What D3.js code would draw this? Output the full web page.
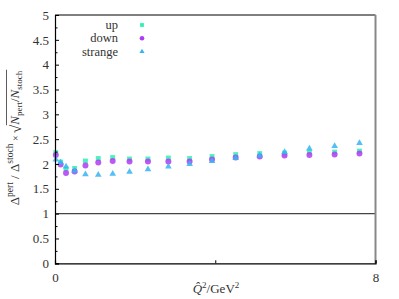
<!DOCTYPE html>
<html><head><meta charset="utf-8">
<script src="https://cdn.jsdelivr.net/npm/d3@7"></script>
<style>body{margin:0;background:#fff}svg{display:block}</style>
</head><body>
<script>
const qsq = [0.02, 0.14, 0.275, 0.49, 0.76, 1.08, 1.44, 1.86, 2.32, 2.83, 3.36, 3.92, 4.51, 5.11, 5.73, 6.35, 6.98, 7.6];
const up = [2.23, 2.04, 1.90, 1.91, 2.06, 2.11, 2.13, 2.10, 2.10, 2.12, 2.11, 2.15, 2.19, 2.21, 2.22, 2.24, 2.24, 2.26];
const down = [2.18, 1.99, 1.82, 1.85, 1.97, 2.03, 2.06, 2.05, 2.05, 2.05, 2.05, 2.09, 2.13, 2.15, 2.17, 2.18, 2.19, 2.21];
const strange = [2.09, 2.03, 1.95, 1.86, 1.79, 1.78, 1.80, 1.84, 1.89, 1.95, 2.00, 2.06, 2.12, 2.17, 2.24, 2.31, 2.36, 2.42];
const seriesNames = ["up", "down", "strange"];
const yTicks = [0, 0.5, 1, 1.5, 2, 2.5, 3, 3.5, 4, 4.5, 5];
const xTicks = [0, 4, 8];
const xLabeled = [0, 8];

const W = 399, H = 299;
const L = 55, R = 375.5, T = 15, B = 263.3;
const font = "'Liberation Serif', 'DejaVu Serif', serif";
const svg = d3.select("body").append("svg").attr("width", W).attr("height", H);
const x = d3.scaleLinear().domain([0, 8]).range([L, R]);
const y = d3.scaleLinear().domain([0, 5]).range([B, T]);

const colors = {up: "#2ff0b4", down: "#b03cf2", strange: "#35b4f2"};
const symbols = {up: d3.symbolSquare, down: d3.symbolCircle, strange: d3.symbolTriangle};
const sizes = {up: 24, down: 28, strange: 19};
const data = {up, down, strange};

// reference line at 1
svg.append("line").attr("x1", x(0)).attr("x2", x(8)).attr("y1", y(1)).attr("y2", y(1))
  .attr("stroke", "#444").attr("stroke-width", 1.2);

// points
seriesNames.forEach(name => {
  svg.append("g").selectAll("path").data(qsq.map((q, i) => [q, data[name][i]])).join("path")
    .attr("d", d3.symbol().type(symbols[name]).size(sizes[name]))
    .attr("transform", d => `translate(${x(d[0])},${y(d[1])})`)
    .attr("fill", colors[name]).attr("fill-opacity", 0.85);
});

// frame
svg.append("line").attr("x1", L).attr("x2", R).attr("y1", T).attr("y2", T).attr("stroke", "#000").attr("stroke-width", 1);
svg.append("line").attr("x1", R).attr("x2", R).attr("y1", T).attr("y2", B).attr("stroke", "#888").attr("stroke-width", 2);

// y axis
const yAxis = d3.axisLeft(y).tickValues(yTicks).tickSize(-4).tickPadding(6).tickFormat(d3.format(""));
const gy = svg.append("g").attr("transform", `translate(${L},0)`).call(yAxis);
const yMinor = d3.axisLeft(y).tickValues(d3.range(0.25, 5, 0.5)).tickSize(-2.5).tickFormat("");
svg.append("g").attr("transform", `translate(${L},0)`).call(yMinor).select(".domain").remove();
gy.select(".domain").attr("stroke", "#000").attr("stroke-width", 1.2);
gy.selectAll("text").attr("font-family", font).attr("font-size", 13).attr("fill", "#333");

// x axis
const xAxis = d3.axisBottom(x).tickValues(xTicks).tickSize(-3).tickPadding(9)
  .tickFormat(d => xLabeled.includes(d) ? d : "");
const gx = svg.append("g").attr("transform", `translate(0,${B})`).call(xAxis);
gx.select(".domain").attr("stroke", "#000").attr("stroke-width", 1.2);
gx.selectAll("text").attr("font-family", font).attr("font-size", 13).attr("fill", "#333");

// x label
const xl = svg.append("text").attr("x", 216).attr("y", 293).attr("text-anchor", "middle")
  .attr("font-family", font).attr("font-size", 13).attr("fill", "#333");
xl.append("tspan").attr("font-style", "italic").text("Q\u0302");
xl.append("tspan").attr("font-size", 9).attr("dy", -5).text("2");
xl.append("tspan").attr("dy", 5).text("/GeV");
xl.append("tspan").attr("font-size", 9).attr("dy", -5).text("2");

// legend
seriesNames.forEach((name, i) => {
  const ly = 25 + i * 13.3;
  svg.append("text").attr("x", 118).attr("y", ly + 4).attr("text-anchor", "end")
    .attr("font-family", font).attr("font-size", 12.5).attr("fill", "#333").text(name);
  svg.append("path").attr("d", d3.symbol().type(symbols[name]).size(sizes[name] * 0.6))
    .attr("transform", `translate(142,${ly})`).attr("fill", colors[name]);
});

// y label (rotated), built piece by piece
const yg = svg.append("g").attr("transform", "translate(19,138) rotate(-90)");
const pieces = [
  {t: "\u0394", s: 13, dy: 0},
  {t: "pert", s: 9.5, dy: -6},
  {t: " / ", s: 13, dy: 0},
  {t: "\u0394", s: 13, dy: 0},
  {t: "stoch", s: 9.5, dy: -6},
  {t: " \u00d7 ", s: 10, dy: 0},
  {t: "\u221a", s: 15, dy: 2, sqrt: true},
  {t: "N", s: 13, dy: 0, it: true, over: true},
  {t: "pert", s: 9, dy: 3, over: true},
  {t: "/", s: 13, dy: 0, over: true},
  {t: "N", s: 13, dy: 0, it: true, over: true},
  {t: "stoch", s: 9, dy: 3, over: true}
];
let cx = 0; const els = []; let overStart = null, overEnd = 0;
pieces.forEach(p => {
  const e = yg.append("text").attr("x", cx).attr("y", p.dy).attr("font-family", font)
    .attr("font-size", p.s).attr("fill", "#333").attr("xml:space", "preserve")
    .style("white-space", "pre").attr("font-style", p.it ? "italic" : "normal").text(p.t);
  const w = e.node().getComputedTextLength();
  if (p.over && overStart === null) overStart = cx;
  if (p.over) overEnd = cx + w;
  els.push(e);
  cx += w;
});
const total = cx;
els.forEach(e => e.attr("x", +e.attr("x") - total / 2));
yg.append("line").attr("x1", overStart - total / 2 - 0.5).attr("x2", overEnd - total / 2 + 1)
  .attr("y1", -12.5).attr("y2", -12.5).attr("stroke", "#333").attr("stroke-width", 0.8);
</script>
</body></html>
